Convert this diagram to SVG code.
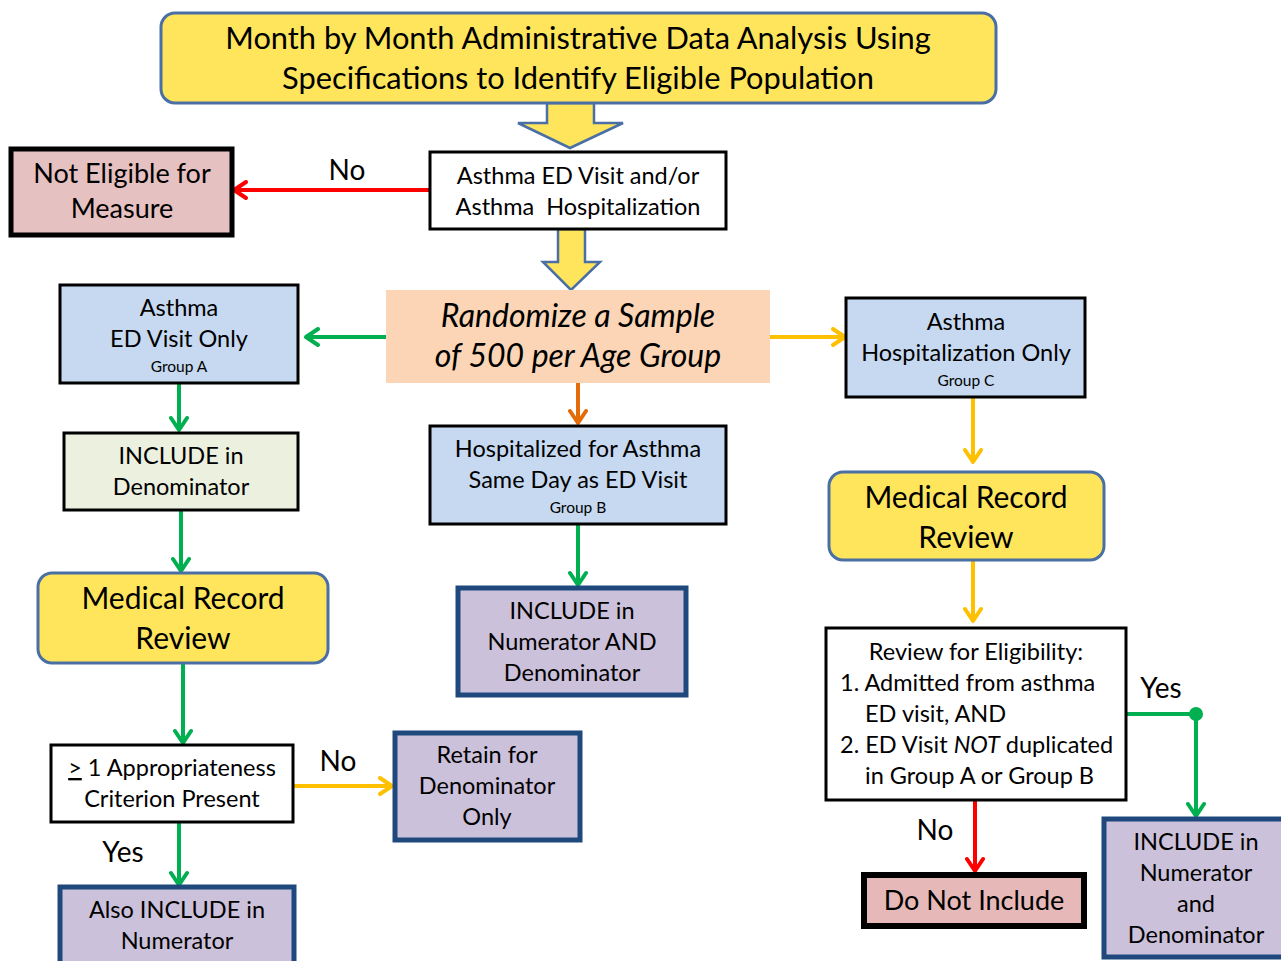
<svg xmlns="http://www.w3.org/2000/svg" width="1281" height="961" viewBox="0 0 1281 961">
<defs>
<style>
text{font-family:Lato,"Liberation Sans",sans-serif;fill:#000;text-anchor:middle}
text.st{text-anchor:start}
.yel{fill:#FFE55C;stroke:#4A6FA5;stroke-width:3}
.blk{stroke:#000;stroke-width:3}
.pur{fill:#CCC1DA;stroke:#1F497D;stroke-width:5}
.t22{font-size:23.5px}
.t26{font-size:27px}
.t30{font-size:30px}
.tt{font-size:30.8px}
.ti{font-size:32px;font-style:italic}
.t15{font-size:15.5px}
.lbl{font-size:28px}
.c{fill:none;stroke-width:4}
.g{stroke:#00B050}
.r{stroke:#FF0000}
.y{stroke:#FFC000}
.o{stroke:#E36C09}
.blockarrow{fill:#FFE55C;stroke:#4A6FA5;stroke-width:2.5}
</style>
<marker id="mg" viewBox="0 0 20 20" refX="17" refY="10" markerWidth="20" markerHeight="20" markerUnits="userSpaceOnUse" orient="auto"><path d="M5,2 L17,10 L5,18" fill="none" stroke="#00B050" stroke-width="4" stroke-linecap="round" stroke-linejoin="round"/></marker>
<marker id="mr" viewBox="0 0 20 20" refX="17" refY="10" markerWidth="20" markerHeight="20" markerUnits="userSpaceOnUse" orient="auto"><path d="M5,2 L17,10 L5,18" fill="none" stroke="#FF0000" stroke-width="4" stroke-linecap="round" stroke-linejoin="round"/></marker>
<marker id="my" viewBox="0 0 20 20" refX="17" refY="10" markerWidth="20" markerHeight="20" markerUnits="userSpaceOnUse" orient="auto"><path d="M5,2 L17,10 L5,18" fill="none" stroke="#FFC000" stroke-width="4" stroke-linecap="round" stroke-linejoin="round"/></marker>
<marker id="mo" viewBox="0 0 20 20" refX="17" refY="10" markerWidth="20" markerHeight="20" markerUnits="userSpaceOnUse" orient="auto"><path d="M5,2 L17,10 L5,18" fill="none" stroke="#E36C09" stroke-width="4" stroke-linecap="round" stroke-linejoin="round"/></marker>
</defs>
<rect width="1281" height="961" fill="#fff"/>

<g id="connectors">
<polygon class="blockarrow" points="547,103 594,103 594,123 623,123 570,148 518,123 547,123"/>
<polygon class="blockarrow" points="558,229 585,229 585,262 600,262 571,290 543,262 558,262"/>
<path class="c r" d="M430,190 L234,190" marker-end="url(#mr)"/>
<path class="c g" d="M386,337 L306,337" marker-end="url(#mg)"/>
<path class="c y" d="M770,337 L845,337" marker-end="url(#my)"/>
<path class="c o" d="M578,383 L578,423" marker-end="url(#mo)"/>
<path class="c g" d="M578,524 L578,585" marker-end="url(#mg)"/>
<path class="c g" d="M179,383 L179,430" marker-end="url(#mg)"/>
<path class="c g" d="M181,510 L181,571" marker-end="url(#mg)"/>
<path class="c g" d="M183,663 L183,743" marker-end="url(#mg)"/>
<path class="c y" d="M293,786 L392,786" marker-end="url(#my)"/>
<path class="c g" d="M179,822 L179,885" marker-end="url(#mg)"/>
<path class="c y" d="M973,397 L973,462" marker-end="url(#my)"/>
<path class="c y" d="M973,560 L973,621" marker-end="url(#my)"/>
<path class="c g" d="M1126,714 L1196,714 L1196,816" marker-end="url(#mg)"/>
<circle cx="1196" cy="714" r="7" fill="#00B050"/>
<path class="c r" d="M975,800 L975,871" marker-end="url(#mr)"/>
<text class="lbl" x="347" y="180">No</text>
<text class="lbl" x="338" y="771">No</text>
<text class="lbl" x="123" y="862">Yes</text>
<text class="lbl" x="1161" y="698">Yes</text>
<text class="lbl" x="935" y="840">No</text>
</g>

<g id="title">
<rect class="yel" x="161" y="13" width="835" height="90" rx="14"/>
<text class="tt" x="578" y="49">Month by Month Administrative Data Analysis Using</text>
<text class="tt" x="578" y="89">Specifications to Identify Eligible Population</text>
</g>

<g id="asthma-visit">
<rect class="blk" fill="#fff" x="430" y="152" width="296" height="77"/>
<text class="t22" x="578" y="184">Asthma ED Visit and/or</text>
<text class="t22" x="578" y="215" xml:space="preserve">Asthma  Hospitalization</text>
</g>

<g id="not-eligible">
<rect fill="#E6C1C1" stroke="#000" stroke-width="5" x="11" y="149" width="221" height="86"/>
<text class="t26" x="122" y="183">Not Eligible for</text>
<text class="t26" x="122" y="218">Measure</text>
</g>

<g id="randomize">
<rect fill="#FBD5B5" x="386" y="290" width="384" height="93"/>
<text class="ti" x="578" y="327">Randomize a Sample</text>
<text class="ti" x="578" y="367">of 500 per Age Group</text>
</g>

<g id="group-a">
<rect class="blk" fill="#C6D9F1" x="60" y="285" width="238" height="98"/>
<text class="t22" x="179" y="316">Asthma</text>
<text class="t22" x="179" y="347">ED Visit Only</text>
<text class="t15" x="179" y="372">Group A</text>
</g>

<g id="group-c">
<rect class="blk" fill="#C6D9F1" x="846" y="298" width="239" height="99"/>
<text class="t22" x="966" y="330">Asthma</text>
<text class="t22" x="966" y="361">Hospitalization Only</text>
<text class="t15" x="966" y="386">Group C</text>
</g>

<g id="group-b">
<rect class="blk" fill="#C6D9F1" x="430" y="426" width="296" height="98"/>
<text class="t22" x="578" y="457">Hospitalized for Asthma</text>
<text class="t22" x="578" y="488">Same Day as ED Visit</text>
<text class="t15" x="578" y="513">Group B</text>
</g>

<g id="include-num-den-b">
<rect class="pur" x="458" y="588" width="228" height="107"/>
<text class="t22" x="572" y="619">INCLUDE in</text>
<text class="t22" x="572" y="650">Numerator AND</text>
<text class="t22" x="572" y="681">Denominator</text>
</g>

<g id="include-den">
<rect class="blk" fill="#EBF1DE" x="64" y="433" width="234" height="77"/>
<text class="t22" x="181" y="464">INCLUDE in</text>
<text class="t22" x="181" y="495">Denominator</text>
</g>

<g id="mrr-left">
<rect class="yel" x="38" y="573" width="290" height="90" rx="14"/>
<text class="t30" x="183" y="609">Medical Record</text>
<text class="t30" x="183" y="649">Review</text>
</g>

<g id="criterion">
<rect class="blk" fill="#fff" x="51" y="745" width="242" height="77"/>
<text class="t22" x="172" y="776"><tspan text-decoration="underline">&gt;</tspan> 1 Appropriateness</text>
<text class="t22" x="172" y="807">Criterion Present</text>
</g>

<g id="retain">
<rect class="pur" x="395" y="733" width="185" height="107"/>
<text class="t22" x="487" y="763">Retain for</text>
<text class="t22" x="487" y="794">Denominator</text>
<text class="t22" x="487" y="825">Only</text>
</g>

<g id="also-include">
<rect class="pur" x="60" y="887" width="234" height="90"/>
<text class="t22" x="177" y="918">Also INCLUDE in</text>
<text class="t22" x="177" y="949">Numerator</text>
</g>

<g id="mrr-right">
<rect class="yel" x="829" y="472" width="275" height="88" rx="14"/>
<text class="t30" x="966" y="508">Medical Record</text>
<text class="t30" x="966" y="548">Review</text>
</g>

<g id="review-eligibility">
<rect class="blk" fill="#fff" x="826" y="628" width="300" height="172"/>
<text class="t22" x="976" y="660">Review for Eligibility:</text>
<text class="t22 st" x="840" y="691">1. Admitted from asthma</text>
<text class="t22 st" x="865" y="722">ED visit, AND</text>
<text class="t22 st" x="840" y="753">2. ED Visit <tspan font-style="italic">NOT</tspan> duplicated</text>
<text class="t22 st" x="865" y="784">in Group A or Group B</text>
</g>

<g id="do-not-include">
<rect fill="#E6B9B8" stroke="#000" stroke-width="6" x="864" y="875" width="220" height="51"/>
<text class="t26" x="974" y="910">Do Not Include</text>
</g>

<g id="include-num-den-c">
<rect class="pur" x="1104" y="819" width="190" height="138"/>
<text class="t22" x="1196" y="850">INCLUDE in</text>
<text class="t22" x="1196" y="881">Numerator</text>
<text class="t22" x="1196" y="912">and</text>
<text class="t22" x="1196" y="943">Denominator</text>
</g>
</svg>
